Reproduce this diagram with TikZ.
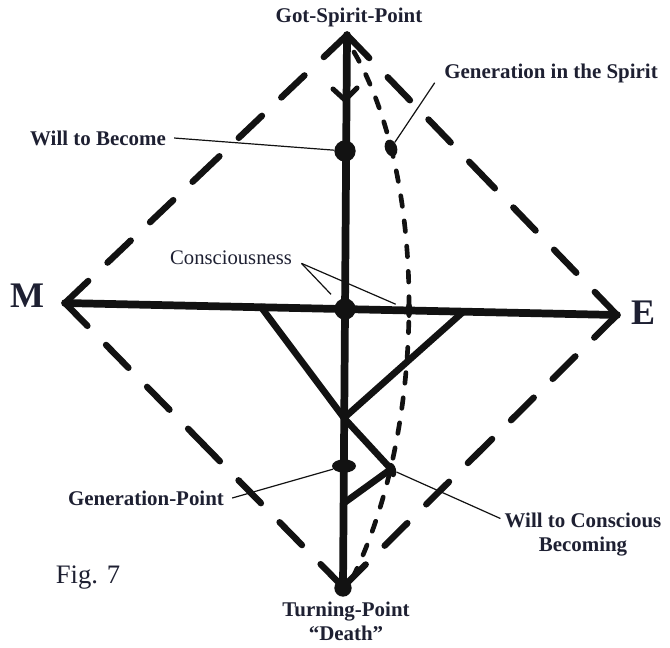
\documentclass[tikz,border=0pt]{standalone}
\usepackage{fontspec}
\setmainfont{Liberation Serif}
\usetikzlibrary{calc,shapes.geometric}
\definecolor{inkcolor}{RGB}{18, 18, 18}
\definecolor{labelcolor}{RGB}{30, 32, 50}
\tikzset{
labeltext/.style={
  font=\fontsize{15.7}{18}\selectfont\bfseries,
  text=labelcolor,
  inner sep=0pt,
  align=center
},
lighttext/.style={
  labeltext,
  font=\fontsize{15.5}{18}\selectfont
},
lettertext/.style={
  font=\fontsize{27}{30}\selectfont\bfseries,
  text=labelcolor,
  inner sep=0pt
},
figtext/.style={
  font=\fontsize{20}{22}\selectfont,
  text=labelcolor,
  inner sep=0pt
},
axisline/.style={
  draw=inkcolor,
  line width=5.8pt,
  line cap=round
},
solidline/.style={
  draw=inkcolor,
  line width=5pt,
  line cap=round,
  line join=round
},
diamondline/.style={
  draw=inkcolor,
  line width=4.8pt,
  line cap=round,
  dash pattern=on 24pt off 20pt
},
spiritline/.style={
  draw=inkcolor,
  line width=3.5pt,
  line cap=round,
  dash pattern=on 8pt off 11pt
},
tipline/.style={
  draw=inkcolor,
  line width=3.8pt,
  line cap=round,
  line join=round
},
leader/.style={
  draw=inkcolor,
  line width=0.9pt
},
dotnode/.style={
  circle,
  fill=inkcolor,
  inner sep=0pt,
  minimum size=#1
},
blobnode/.style={
  ellipse,
  fill=inkcolor,
  inner sep=0pt
}
}

\begin{document}
\begin{tikzpicture}[x=0.75pt, y=-0.75pt]
  \useasboundingbox (0,0) rectangle (670,647);

  \coordinate (top) at (347,35);
  \coordinate (M) at (65,303);
  \coordinate (E) at (617,315);
  \coordinate (bot) at (343,587);

  \foreach \a/\b in {top/M, top/E, bot/M, bot/E} {
    \draw[diamondline] (\a) -- ($(\a)!0.5!(\b)$);
    \draw[diamondline] (\b) -- ($(\b)!0.5!(\a)$);
  }

  \draw[axisline] (M) -- (E);
  \draw[axisline] (top) -- (bot);

  \coordinate (tl) at (261,307);
  \coordinate (tr) at (463,312);
  \coordinate (tj) at (344,418);
  \coordinate (wzig) at (391,469);
  \coordinate (tz) at (344,503);
  \draw[solidline] (tl) -- (tj) -- (tr);
  \draw[solidline] (tj) -- (wzig) -- (tz);

  \coordinate (sstart) at (354,52);
  \coordinate (send) at (350,583);
  \draw[spiritline] (sstart) .. controls (428,180) and (428,430) .. (send);

  \coordinate (vtip) at (345,100);
  \draw[tipline] (333,89) -- (vtip) -- (357,88);

  \node[dotnode=16pt] (wdot) at (345,151) {};
  \node[dotnode=16pt] (cdot) at (345,309) {};
  \node[dotnode=13pt] (bdot) at (343,588) {};
  \node[blobnode, minimum width=18pt, minimum height=10pt] (gdot) at (344,466) {};
  \node[blobnode, minimum width=9pt, minimum height=13pt, rotate=20] (gisdot) at (391,148) {};
  \node[blobnode, minimum width=5pt, minimum height=12pt] (xdot) at (409,310) {};
  \node[blobnode, minimum width=6pt, minimum height=11pt, rotate=15] (zdot) at (392,470) {};

  \node[labeltext] (gsp) at (349,17) {Got-Spirit-Point};
  \node[labeltext] (gis) at (551,73) {Generation in the Spirit};
  \node[labeltext] (wtb) at (98,138) {Will to Become};
  \node[lighttext] (con) at (231,258) {Consciousness};
  \node[lettertext] (mlab) at (27,296) {M};
  \node[lettertext] (elab) at (643,313) {E};
  \node[labeltext] (gp) at (146,498) {Generation-Point};
  \node[labeltext] (wcb) at (583,535) {Will to Conscious\\Becoming};
  \node[figtext] (fig) at (88,578) {Fig. 7};
  \node[labeltext] (tp) at (346,621) {Turning-Point\\“Death”};

  \draw[leader] ([xshift=6pt]wtb.east) -- (wdot);
  \draw[leader] ([xshift=-7pt]gis.south west) -- (gisdot);
  \draw[leader, shorten >=7pt] ([xshift=7pt,yshift=-4pt]con.east) -- (cdot);
  \draw[leader, shorten >=8pt] ([xshift=7pt,yshift=-4pt]con.east) -- (xdot);
  \draw[leader] ([xshift=6pt]gp.east) -- (gdot);
  \draw[leader] (zdot) -- ([xshift=-3pt,yshift=-4pt]wcb.north west);
\end{tikzpicture}
\end{document}
